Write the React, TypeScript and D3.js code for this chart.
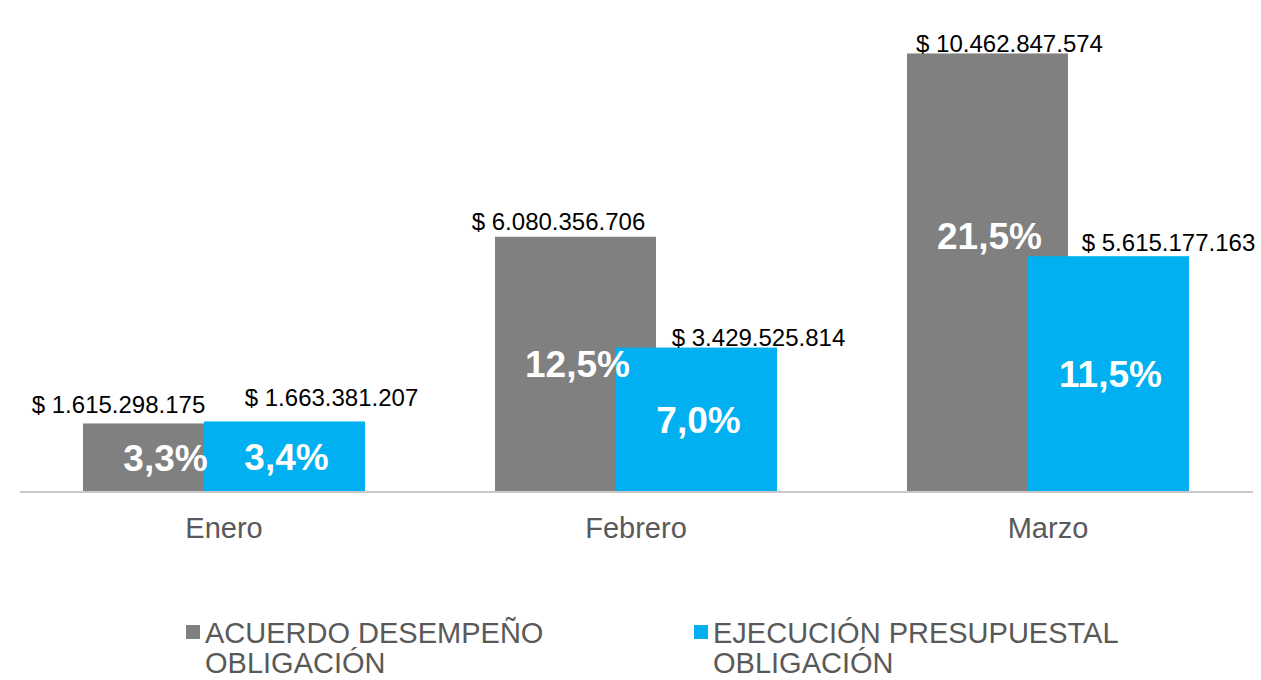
import React, { useEffect, useRef } from 'react';
import * as d3 from 'd3';

const MONTHS = ["Enero", "Febrero", "Marzo"];
const ACUERDO = [1615298175, 6080356706, 10462847574];
const EJECUCION = [1663381207, 3429525814, 5615177163];
const ACUERDO_PCT = ["3,3%", "12,5%", "21,5%"];
const EJECUCION_PCT = ["3,4%", "7,0%", "11,5%"];
const SERIES_NAMES = [["ACUERDO DESEMPEÑO", "OBLIGACIÓN"], ["EJECUCIÓN PRESUPUESTAL", "OBLIGACIÓN"]];
const COLORS = ["#808080", "#00B0F0"];

// hand-placed label nudges (the source chart had dragged labels)
const VAL_DX = [[-45, 47], [-17, 62], [22, 60]];
const VAL_GAP = [[10, 15], [7, 2], [1, 5]];
const PCT_DY = [[0, 0], [0, 0], [-37, 0]];

const W = 1261;
const H = 680;
const MARGIN = { top: 20, right: 8, bottom: 189, left: 18 };

function fmt(v: number) {
  return "$ " + d3.format(",")(v).replace(/,/g, ".");
}

export default function App() {
  const svgRef = useRef<SVGSVGElement>(null);

  useEffect(() => {
    const svg = d3.select(svgRef.current);
    svg.selectAll("*").remove();

    const baseY = H - MARGIN.bottom; // 491
    const x0 = d3.scaleBand().domain(MONTHS).range([MARGIN.left, MARGIN.left + 412 * 3]).paddingInner(0).paddingOuter(0);
    const y = d3.scaleLinear().domain([0, 11e9]).range([baseY, baseY - 460]);

    const barW = 161;
    const overlap = 40;
    const groupW = barW * 2 - overlap;

    const g = svg.append("g");

    // axis line
    g.append("line")
      .attr("x1", 20).attr("x2", 1253)
      .attr("y1", baseY + 1).attr("y2", baseY + 1)
      .attr("stroke", "#c8c8c8").attr("stroke-width", 2);

    const series = [ACUERDO, EJECUCION];
    const pcts = [ACUERDO_PCT, EJECUCION_PCT];

    MONTHS.forEach((m, i) => {
      const cx = x0(m)! + x0.bandwidth() / 2;
      const left = cx - groupW / 2;
      series.forEach((vals, s) => {
        const bx = left + s * (barW - overlap);
        const top = y(vals[i]);
        g.append("rect")
          .attr("x", bx).attr("y", top)
          .attr("width", barW).attr("height", baseY - top)
          .attr("fill", COLORS[s]);
      });
      // labels after both bars so they draw on top
      series.forEach((vals, s) => {
        const bx = left + s * (barW - overlap);
        const top = y(vals[i]);
        g.append("text")
          .attr("x", bx + barW / 2 + VAL_DX[i][s])
          .attr("y", top - VAL_GAP[i][s])
          .attr("text-anchor", "middle")
          .style("font-family", "Liberation Sans, Arial, sans-serif")
          .style("font-size", "24px")
          .style("fill", "#000")
          .text(fmt(vals[i]));
        g.append("text")
          .attr("x", bx + barW / 2 + 2)
          .attr("y", (top + baseY) / 2 + PCT_DY[i][s])
          .attr("dy", "0.36em")
          .attr("text-anchor", "middle")
          .style("font-family", "Liberation Sans, Arial, sans-serif")
          .style("font-size", "37px")
          .style("font-weight", "700")
          .style("fill", "#fff")
          .text(pcts[s][i]);
      });
      g.append("text")
        .attr("x", cx)
        .attr("y", baseY + 47)
        .attr("text-anchor", "middle")
        .style("font-family", "Liberation Sans, Arial, sans-serif")
        .style("font-size", "29px")
        .style("fill", "#595959")
        .text(m);
    });

    // legend
    const legX = [186, 694];
    SERIES_NAMES.forEach((lines, s) => {
      g.append("rect")
        .attr("x", legX[s]).attr("y", 625)
        .attr("width", 14).attr("height", 14)
        .attr("fill", COLORS[s]);
      lines.forEach((t, li) => {
        g.append("text")
          .attr("x", legX[s] + 19)
          .attr("y", 643 + li * 30)
          .style("font-family", "Liberation Sans, Arial, sans-serif")
          .style("font-size", "29px")
          .style("fill", "#595959")
          .text(t);
      });
    });
  }, []);

  return (
    <svg ref={svgRef} width={W} height={H}
      style={{ position: "absolute", left: 0, top: 0, background: "#fff" }} />
  );
}
